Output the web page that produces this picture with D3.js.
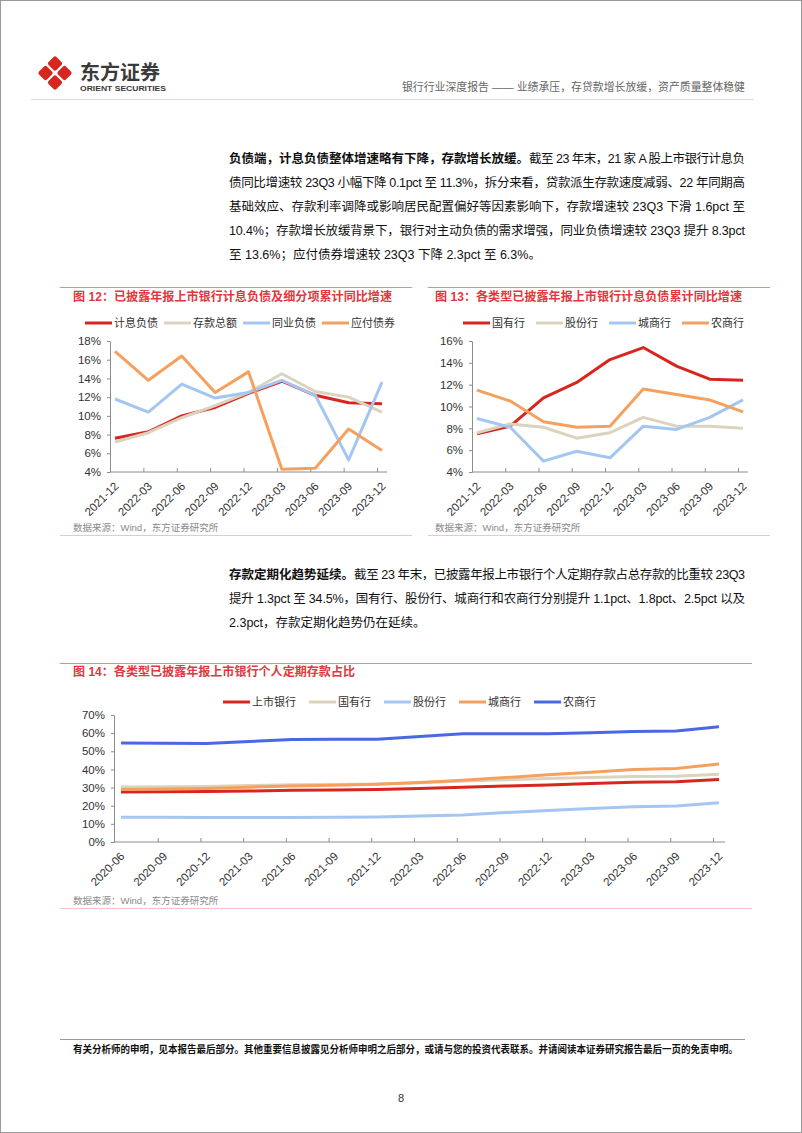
<!DOCTYPE html>
<html><head><meta charset="utf-8">
<script src="https://cdn.jsdelivr.net/npm/d3@7"></script>
<style>
body{margin:0;background:#fff;}
svg{display:block;}
text{font-family:"Liberation Sans","Noto Sans CJK SC",sans-serif;}
</style></head><body>
<svg id="page" width="802" height="1133"></svg>
<script>
// ---------- DATA ----------
const quarters12 = ["2021-12","2022-03","2022-06","2022-09","2022-12","2023-03","2023-06","2023-09","2023-12"];
const names12 = ["计息负债","存款总额","同业负债","应付债券"];
const interestLiab = [7.6, 8.3, 10.0, 10.9, 12.4, 13.7, 12.2, 11.4, 11.3];
const depositsTotal = [7.2, 8.2, 9.8, 11.1, 12.5, 14.5, 12.6, 12.0, 10.4];
const interbankLiab = [11.8, 10.4, 13.4, 11.9, 12.5, 13.8, 12.2, 5.3, 13.6];
const bondsPayable = [16.9, 13.8, 16.4, 12.5, 14.7, 4.3, 4.4, 8.6, 6.3];
const yTicks12 = [4, 6, 8, 10, 12, 14, 16, 18];

const names13 = ["国有行","股份行","城商行","农商行"];
const stateOwned13 = [7.5, 8.2, 10.8, 12.2, 14.3, 15.4, 13.7, 12.5, 12.4];
const jointStock13 = [7.6, 8.4, 8.1, 7.1, 7.6, 9.0, 8.2, 8.2, 8.0];
const cityComm13 = [8.9, 8.1, 5.0, 5.9, 5.3, 8.2, 7.9, 9.0, 10.6];
const ruralComm13 = [11.5, 10.5, 8.6, 8.1, 8.2, 11.6, 11.1, 10.6, 9.5];
const yTicks13 = [4, 6, 8, 10, 12, 14, 16];

const quarters14 = ["2020-06","2020-09","2020-12","2021-03","2021-06","2021-09","2021-12","2022-03","2022-06","2022-09","2022-12","2023-03","2023-06","2023-09","2023-12"];
const names14 = ["上市银行","国有行","股份行","城商行","农商行"];
const listed14 = [27.6, 27.7, 27.8, 28.1, 28.5, 28.7, 28.9, 29.5, 30.2, 30.8, 31.4, 32.2, 32.9, 33.2, 34.5];
const stateOwned14 = [30.3, 30.4, 30.6, 31.1, 31.5, 31.7, 31.9, 32.7, 33.6, 34.3, 35.0, 35.6, 36.1, 36.2, 37.3];
const jointStock14 = [13.7, 13.6, 13.5, 13.5, 13.5, 13.6, 13.8, 14.3, 14.9, 16.2, 17.4, 18.4, 19.4, 19.9, 21.7];
const cityComm14 = [29.0, 29.2, 29.5, 30.2, 30.9, 31.3, 31.8, 32.8, 34.0, 35.5, 37.0, 38.5, 39.9, 40.5, 43.0];
const ruralComm14 = [54.6, 54.4, 54.3, 55.4, 56.5, 56.6, 56.7, 58.2, 59.6, 59.7, 59.7, 60.2, 60.9, 61.2, 63.5];
const yTicks14 = [0, 10, 20, 30, 40, 50, 60, 70];

// ---------- STYLE ----------
const RED = "#D8261E", BEIGE = "#DCD3BF", LBLUE = "#A3C6F2", ORANGE = "#F5A05E", BLUE = "#4A68E6";
const TITLE_RED = "#E0383E";

const svg = d3.select("#page");
svg.append("rect").attr("x",0.5).attr("y",0.5).attr("width",801).attr("height",1132)
  .attr("fill","#fff").attr("stroke","#9a9a9a");

// ---------- HEADER ----------
const logo = svg.append("g").attr("transform","translate(55,73)");
[[0,-9.5],[-9.5,0],[9.5,0],[0,9.5]].forEach(([dx,dy])=>{
  logo.append("rect").attr("x",-5.6).attr("y",-5.6).attr("width",11.2).attr("height",11.2)
    .attr("rx",2).attr("fill","#D7261E")
    .attr("transform",`translate(${dx},${dy}) rotate(45)`);
});
svg.append("text").attr("x",80).attr("y",80).attr("font-size",20).attr("font-weight","bold")
  .attr("fill","#3a3a3a").attr("font-family","Noto Sans CJK SC").text("东方证券");
svg.append("text").attr("x",80).attr("y",91).attr("font-size",7.4).attr("font-weight","bold")
  .attr("fill","#3a3a3a").attr("textLength",86).attr("lengthAdjust","spacingAndGlyphs").text("ORIENT SECURITIES");
svg.append("text").attr("x",402).attr("y",91).attr("font-size",11).attr("fill","#666")
  .attr("textLength",343).attr("lengthAdjust","spacingAndGlyphs")
  .text("银行行业深度报告 —— 业绩承压，存贷款增长放缓，资产质量整体稳健");
svg.append("line").attr("x1",31).attr("x2",754).attr("y1",99.5).attr("y2",99.5).attr("stroke","#dcdcdc");

// ---------- PARAGRAPHS ----------
const PX = 229, PW = 516, PFS = 12.5;
function paraLine(y, bold, normal, justify){
  let x = PX, bw = 0;
  if (bold){
    const b = svg.append("text").attr("x",x).attr("y",y).attr("font-size",PFS).attr("font-weight","bold")
      .attr("fill","#111").text(bold);
    bw = b.node().getComputedTextLength();
  }
  if (normal){
    const t = svg.append("text").attr("x",x+bw).attr("y",y).attr("font-size",PFS).attr("fill","#111")
      .attr("xml:space","preserve").text(normal);
    if (justify) t.attr("textLength", PW - bw).attr("lengthAdjust","spacing");
  }
}
const para1 = [
  ["负债端，计息负债整体增速略有下降，存款增长放缓。","截至 23 年末，21 家 A 股上市银行计息负", true],
  [null,"债同比增速较 23Q3 小幅下降 0.1pct 至 11.3%，拆分来看，贷款派生存款速度减弱、22 年同期高", true],
  [null,"基础效应、存款利率调降或影响居民配置偏好等因素影响下，存款增速较 23Q3 下滑 1.6pct 至", true],
  [null,"10.4%；存款增长放缓背景下，银行对主动负债的需求增强，同业负债增速较 23Q3 提升 8.3pct", true],
  [null,"至 13.6%；应付债券增速较 23Q3 下降 2.3pct 至 6.3%。", false]
];
para1.forEach((l,i)=>paraLine(163 + i*24, l[0], l[1], l[2]));
const para2 = [
  ["存款定期化趋势延续。","截至 23 年末，已披露年报上市银行个人定期存款占总存款的比重较 23Q3", true],
  [null,"提升 1.3pct 至 34.5%，国有行、股份行、城商行和农商行分别提升 1.1pct、1.8pct、2.5pct 以及", true],
  [null,"2.3pct，存款定期化趋势仍在延续。", false]
];
para2.forEach((l,i)=>paraLine(579 + i*24, l[0], l[1], l[2]));

// ---------- CHART HELPER ----------
function chart(cfg){
  const g = svg.append("g");
  // frame lines
  g.append("line").attr("x1",cfg.box[0]).attr("x2",cfg.box[1]).attr("y1",cfg.box[2]).attr("y2",cfg.box[2])
    .attr("stroke","#E88A8C").attr("stroke-width",1);
  g.append("line").attr("x1",cfg.box[0]).attr("x2",cfg.box[1]).attr("y1",cfg.box[3]).attr("y2",cfg.box[3])
    .attr("stroke","#F1C3C3").attr("stroke-width",1);
  // title
  g.append("text").attr("x",cfg.titleX).attr("y",cfg.titleY).attr("font-size",12.2).attr("font-weight","bold")
    .attr("fill",TITLE_RED).attr("textLength",cfg.titleW).attr("lengthAdjust","spacingAndGlyphs").text(cfg.title);
  // source
  g.append("text").attr("x",cfg.titleX).attr("y",cfg.sourceY).attr("font-size",9.5).attr("fill","#8a8a8a")
    .text("数据来源：Wind，东方证券研究所");

  const x = d3.scalePoint().domain(cfg.cats).range(cfg.xRange);
  const y = d3.scaleLinear().domain(cfg.yDomain).range(cfg.yRange);
  const axisY = cfg.yRange[0];

  // y axis
  const ya = g.append("g").attr("transform",`translate(${cfg.yAxisX},0)`)
    .call(d3.axisLeft(y).tickValues(cfg.yTicks).tickFormat(d=>d+"%").tickSizeOuter(0).tickSizeInner(3).tickPadding(6));
  ya.select(".domain").attr("stroke","#8c8c8c");
  ya.selectAll(".tick line").attr("stroke","#8c8c8c");
  ya.selectAll(".tick text").attr("font-size",11.5).attr("fill","#333")
    .attr("font-family","Liberation Sans");

  // x axis
  const xa = g.append("g").attr("transform",`translate(0,${axisY})`)
    .call(d3.axisBottom(x).tickSizeInner(-4).tickSizeOuter(0).tickPadding(0));
  xa.select(".domain").remove();
  xa.append("line").attr("x1",cfg.yAxisX).attr("x2",cfg.axisEnd).attr("y1",0).attr("y2",0).attr("stroke","#8c8c8c");
  xa.selectAll(".tick line").attr("stroke","#8c8c8c").attr("transform",`translate(${cfg.tickOff},0)`)
    .filter((d,i)=>i===0).remove();
  xa.selectAll(".tick text").attr("font-size",11.5).attr("fill","#333").attr("font-family","Liberation Sans")
    .attr("text-anchor","end").attr("y",0).attr("dy","0.35em")
    .attr("transform","translate(1,12) rotate(-45)");

  // lines
  const line = d3.line().x((d,i)=>x(cfg.cats[i])).y(d=>y(d)).curve(d3.curveLinear);
  cfg.series.forEach(s=>{
    g.append("path").datum(s.values).attr("d",line).attr("fill","none")
      .attr("stroke",s.color).attr("stroke-width",3).attr("stroke-linejoin","round").attr("stroke-linecap","butt");
  });

  // legend
  let lx = cfg.legendX;
  cfg.series.forEach(s=>{
    g.append("line").attr("x1",lx).attr("x2",lx+27).attr("y1",cfg.legendY).attr("y2",cfg.legendY)
      .attr("stroke",s.color).attr("stroke-width",3);
    const t = g.append("text").attr("x",lx+29).attr("y",cfg.legendY+4).attr("font-size",11)
      .attr("fill","#333").text(s.name);
    lx += 29 + t.node().getComputedTextLength() + cfg.legendGap;
  });
}

chart({
  box:[60,412,287.5,535.5], title:"图 12：已披露年报上市银行计息负债及细分项累计同比增速",
  titleX:73, titleY:301, titleW:319, sourceY:531,
  cats:quarters12, xRange:[115,382], yAxisX:110, axisEnd:387, tickOff:-5,
  yDomain:[4,18], yRange:[472,341], yTicks:yTicks12,
  legendX:85, legendY:323, legendGap:6,
  series:[
    {name:names12[0], values:interestLiab, color:RED},
    {name:names12[1], values:depositsTotal, color:BEIGE},
    {name:names12[2], values:interbankLiab, color:LBLUE},
    {name:names12[3], values:bondsPayable, color:ORANGE}
  ]
});

chart({
  box:[428,770,287.5,535.5], title:"图 13：各类型已披露年报上市银行计息负债累计同比增速",
  titleX:435, titleY:301, titleW:307, sourceY:531,
  cats:quarters12, xRange:[477,743], yAxisX:472, axisEnd:748, tickOff:-5,
  yDomain:[4,16], yRange:[472,341], yTicks:yTicks13,
  legendX:463, legendY:323, legendGap:11,
  series:[
    {name:names13[0], values:stateOwned13, color:RED},
    {name:names13[1], values:jointStock13, color:BEIGE},
    {name:names13[2], values:cityComm13, color:LBLUE},
    {name:names13[3], values:ruralComm13, color:ORANGE}
  ]
});

chart({
  box:[60,752,663.5,908.5], title:"图 14：各类型已披露年报上市银行个人定期存款占比",
  titleX:73, titleY:676, titleW:282, sourceY:904,
  cats:quarters14, xRange:[121,719], yAxisX:114, axisEnd:725, tickOff:-6,
  yDomain:[0,70], yRange:[842,715], yTicks:yTicks14,
  legendX:223, legendY:702, legendGap:13,
  series:[
    {name:names14[0], values:listed14, color:RED},
    {name:names14[1], values:stateOwned14, color:BEIGE},
    {name:names14[2], values:jointStock14, color:LBLUE},
    {name:names14[3], values:cityComm14, color:ORANGE},
    {name:names14[4], values:ruralComm14, color:BLUE}
  ]
});

// ---------- FOOTER ----------
svg.append("line").attr("x1",60).attr("x2",745).attr("y1",1039.5).attr("y2",1039.5).attr("stroke","#999");
svg.append("text").attr("x",73).attr("y",1053).attr("font-size",10).attr("font-weight","bold").attr("fill","#111")
  .attr("textLength",665).attr("lengthAdjust","spacingAndGlyphs")
  .text("有关分析师的申明，见本报告最后部分。其他重要信息披露见分析师申明之后部分，或请与您的投资代表联系。并请阅读本证券研究报告最后一页的免责申明。");
svg.append("text").attr("x",401).attr("y",1102).attr("font-size",11).attr("fill","#333")
  .attr("text-anchor","middle").text("8");
</script>
</body></html>
